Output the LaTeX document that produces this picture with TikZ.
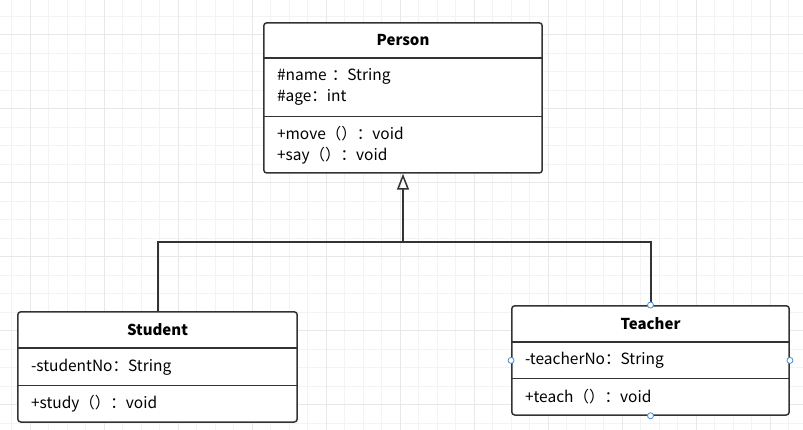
\documentclass[tikz,border=0pt]{standalone}
\usepackage{fontspec}
\setmainfont{Noto Sans CJK SC}
\usetikzlibrary{arrows.meta, positioning, fit, backgrounds}
\definecolor{GridMinor}{HTML}{F3F3F3}
\definecolor{GridMajor}{HTML}{E8E8E8}
\definecolor{LineDark}{HTML}{333333}
\definecolor{HandleBlue}{HTML}{3D8EEA}
\tikzstyle{header} = [rectangle, inner sep=0pt, font=\fontsize{15}{21}\selectfont\bfseries,
text centered]
\tikzstyle{member} = [rectangle, inner xsep=13pt, inner ysep=0pt, align=left]
\tikzstyle{classbox} = [rectangle, draw=LineDark, fill=white, line width=1.5pt,
rounded corners=3pt, inner sep=0pt]
\tikzstyle{divider} = [draw=LineDark, line width=1.5pt]
\tikzstyle{connector} = [draw=LineDark, line width=2pt]
\tikzstyle{handle} = [circle, draw=HandleBlue, fill=white, line width=0.8pt,
inner sep=0pt, minimum size=6pt]

\begin{document}
\begin{tikzpicture}[x=1pt, y=-1pt, font=\fontsize{15.5}{21}\selectfont]
   \useasboundingbox (0,0) rectangle (803,430);
   \begin{scope}[on background layer]
     \fill[white] (0,0) rectangle (803,430);
     \foreach \gx in {0,...,42}
       \draw[GridMinor, line width=0.8pt] ({11.5+18.5*\gx},0) -- ({11.5+18.5*\gx},430);
     \foreach \gy in {0,...,22}
       \draw[GridMinor, line width=0.8pt] (0,{16+18.5*\gy}) -- (803,{16+18.5*\gy});
     \foreach \gx in {0,...,10}
       \draw[GridMajor, line width=0.8pt] ({30+74*\gx},0) -- ({30+74*\gx},430);
     \foreach \gy in {0,...,5}
       \draw[GridMajor, line width=0.8pt] (0,{34.5+74*\gy}) -- (803,{34.5+74*\gy});
   \end{scope}

   \node[header, minimum width=278pt, minimum height=35pt] (personhead) at (403,40.5) {Person};
   \node[member, text width=252pt, minimum height=58pt, below=0pt of personhead]
    (personattr) {\#name ：String\\\#age：int};
   \node[member, text width=252pt, minimum height=56pt, below=0pt of personattr]
    (personmeth) {+move（）：void\\+say（）：void};

   \node[header, minimum width=279pt, minimum height=36pt] (studenthead) at (157.5,330) {Student};
   \node[member, text width=253pt, minimum height=37pt, below=0pt of studenthead]
    (studentattr) {-studentNo：String};
   \node[member, text width=253pt, minimum height=36pt, below=0pt of studentattr]
    (studentmeth) {+study（）：void};

   \node[header, minimum width=277pt, minimum height=36pt] (teacherhead) at (650.5,324) {Teacher};
   \node[member, text width=251pt, minimum height=36pt, below=0pt of teacherhead]
    (teacherattr) {-teacherNo：String};
   \node[member, text width=251pt, minimum height=36pt, below=0pt of teacherattr]
    (teachermeth) {+teach（）：void};

   \begin{scope}[on background layer]
     \node[classbox, fit=(personhead)(personmeth)] (person) {};
     \node[classbox, fit=(studenthead)(studentmeth)] (student) {};
     \node[classbox, fit=(teacherhead)(teachermeth)] (teacher) {};
   \end{scope}

   \draw[divider] (personattr.north west) -- (personattr.north east);
   \draw[divider] (personmeth.north west) -- (personmeth.north east);
   \draw[divider] (studentattr.north west) -- (studentattr.north east);
   \draw[divider] (studentmeth.north west) -- (studentmeth.north east);
   \draw[divider] (teacherattr.north west) -- (teacherattr.north east);
   \draw[divider] (teachermeth.north west) -- (teachermeth.north east);

   \coordinate (split) at (403,242);
   \draw[connector] (student.north) |- (split) -| (teacher.north);
   \draw[connector, -{Triangle[open, length=16pt, width=12pt, line width=1.5pt]}]
    (split) -- (person.south);

   \foreach \side in {north, south, east, west}
     \node[handle] (handle-\side) at (teacher.\side) {};
\end{tikzpicture}
\end{document}
